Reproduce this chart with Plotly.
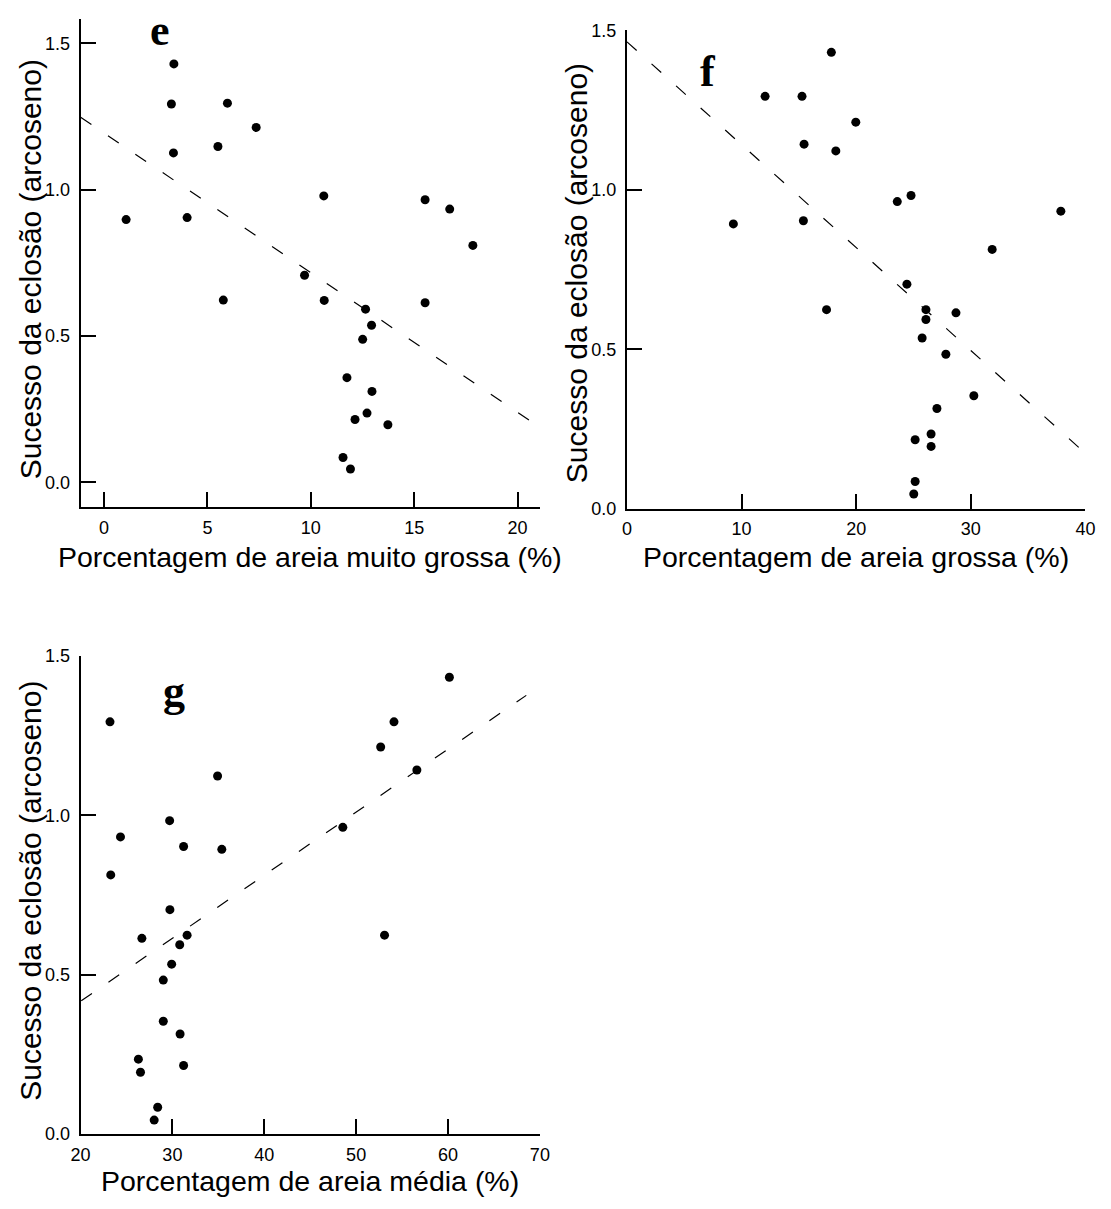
import plotly.graph_objects as go

# ---------------- data ----------------
# Panel e: very coarse sand (%)
e_x = [3.38, 3.26, 5.97, 7.36, 3.36, 5.51, 10.63, 1.07, 4.02, 15.53, 16.72, 17.84, 9.70,
       5.77, 10.65, 15.53, 12.65, 12.94, 12.51, 11.75, 12.96, 12.72, 12.14, 13.73, 11.56, 11.92]
e_y = [1.430, 1.293, 1.296, 1.213, 1.126, 1.148, 0.979, 0.898, 0.905, 0.966, 0.934, 0.810, 0.708,
       0.623, 0.622, 0.614, 0.592, 0.537, 0.489, 0.358, 0.311, 0.237, 0.215, 0.197, 0.085, 0.046]
e_fit_x = [-1.13, 20.6]
e_fit_y = [1.248, 0.211]

# Panel f: coarse sand (%)
f_x = [17.83, 12.05, 15.27, 19.96, 15.45, 18.22, 23.58, 24.78, 37.85, 9.28, 15.39, 31.86, 24.42,
       17.41, 26.08, 26.08, 28.70, 25.75, 27.82, 30.26, 27.04, 25.14, 26.53, 26.53, 25.14, 25.02]
f_y = [1.431, 1.293, 1.293, 1.212, 1.143, 1.122, 0.963, 0.982, 0.933, 0.893, 0.903, 0.813, 0.704,
       0.624, 0.624, 0.593, 0.614, 0.535, 0.484, 0.354, 0.314, 0.216, 0.234, 0.195, 0.085, 0.046]
f_fit_x = [0.0, 39.6]
f_fit_y = [1.464, 0.186]

# Panel g: medium sand (%)
g_x = [60.15, 23.21, 54.12, 52.67, 34.92, 56.61, 29.70, 48.55, 24.35, 31.22, 35.38, 23.29, 29.73,
       26.68, 31.60, 53.09, 30.80, 29.92, 29.01, 29.01, 30.84, 26.30, 26.53, 31.22, 28.40, 28.02]
g_y = [1.433, 1.293, 1.293, 1.214, 1.123, 1.142, 0.983, 0.962, 0.932, 0.902, 0.893, 0.813, 0.704,
       0.614, 0.624, 0.624, 0.594, 0.533, 0.483, 0.354, 0.314, 0.235, 0.194, 0.215, 0.084, 0.044]
g_fit_x = [20.08, 68.52]
g_fit_y = [0.418, 1.376]

y_title = "Sucesso da eclosão (arcoseno)"
x_titles = ["Porcentagem de areia muito grossa (%)",
            "Porcentagem de areia grossa (%)",
            "Porcentagem de areia média (%)"]
panel_labels = ["e", "f", "g"]

# ---------------- figure ----------------
W, H = 1111, 1209
SANS = "Liberation Sans, Arial, Helvetica, sans-serif"
SERIF = "Liberation Serif, Times New Roman, serif"

fig = go.Figure()

panels = [
    (e_x, e_y, e_fit_x, e_fit_y, "x", "y"),
    (f_x, f_y, f_fit_x, f_fit_y, "x2", "y2"),
    (g_x, g_y, g_fit_x, g_fit_y, "x3", "y3"),
]
for px_, py_, fx, fy, xa, ya in panels:
    fig.add_trace(go.Scatter(x=fx, y=fy, mode="lines", xaxis=xa, yaxis=ya,
                             line=dict(color="black", width=1.2, dash="13px,20px"),
                             hoverinfo="skip", showlegend=False))
    fig.add_trace(go.Scatter(x=px_, y=py_, mode="markers", xaxis=xa, yaxis=ya,
                             marker=dict(color="black", size=9), showlegend=False))

def px_x(v):
    return v / W

def px_y(v):
    return 1 - v / H

common_x = dict(showgrid=False, zeroline=False, showline=True, linecolor="black", linewidth=2,
                ticks="inside", ticklen=15, tickwidth=2, tickcolor="black",
                tickfont=dict(family=SANS, size=18, color="black"), ticklabelstandoff=3,
                mirror=False)
common_y = dict(showgrid=False, zeroline=False, showline=True, linecolor="black", linewidth=2,
                ticks="inside", ticklen=15, tickwidth=2, tickcolor="black",
                tickfont=dict(family=SANS, size=18, color="black"), ticklabelstandoff=5,
                mirror=False, tickvals=[0, 0.5, 1.0, 1.5], ticktext=["0.0", "0.5", "1.0", "1.5"])

fig.update_layout(
    width=W, height=H, margin=dict(l=0, r=0, t=0, b=0),
    paper_bgcolor="white", plot_bgcolor="white", showlegend=False,
    xaxis=dict(domain=[px_x(71.8), px_x(540)], range=[-1.136, 21.10], anchor="y",
               tickvals=[0, 5, 10, 15, 20], **common_x),
    yaxis=dict(domain=[px_y(505.7), px_y(9.3)], range=[-0.0851, 1.583], anchor="x", **common_y),
    xaxis2=dict(domain=[px_x(628.3), px_x(1095.2)], range=[0, 40], anchor="y2",
                tickvals=[0, 10, 20, 30, 40], **common_x),
    yaxis2=dict(domain=[px_y(507), px_y(20.7)], range=[0, 1.5], anchor="x2", **common_y),
    xaxis3=dict(domain=[px_x(71.8), px_x(539.6)], range=[20, 70], anchor="y3",
                tickvals=[20, 30, 40, 50, 60, 70], **common_x),
    yaxis3=dict(domain=[px_y(1143), px_y(656.7)], range=[0, 1.5], anchor="x3", **common_y),
)

annotations = []
# x-axis titles (baseline positions)
for txt, cx, by in zip(x_titles, [305, 862, 306], [567, 567, 1202]):
    annotations.append(dict(text=txt, x=px_x(cx), y=px_y(by + 7), xref="paper", yref="paper",
                            xanchor="center", yanchor="bottom", showarrow=False,
                            font=dict(family=SANS, size=28.5, color="black")))
# y-axis titles
for cx, cy in [(21, 264), (577, 268), (21, 896)]:
    annotations.append(dict(text=y_title, x=px_x(cx), y=px_y(cy), xref="paper", yref="paper",
                            xanchor="center", yanchor="middle", showarrow=False, textangle=-90,
                            font=dict(family=SANS, size=30, color="black")))
# panel letters
for lab, cx, cy in zip(panel_labels, [153, 711, 167], [21, 63, 693]):
    annotations.append(dict(text="<b>%s</b>" % lab, x=px_x(cx), y=px_y(cy), xref="paper",
                            yref="paper", xanchor="center", yanchor="middle", showarrow=False,
                            font=dict(family=SERIF, size=44, color="black")))
fig.update_layout(annotations=annotations)

# remove the default page margin so the figure fills the window exactly
fig.write_html("out.html", post_script="document.body.style.margin='0';")
